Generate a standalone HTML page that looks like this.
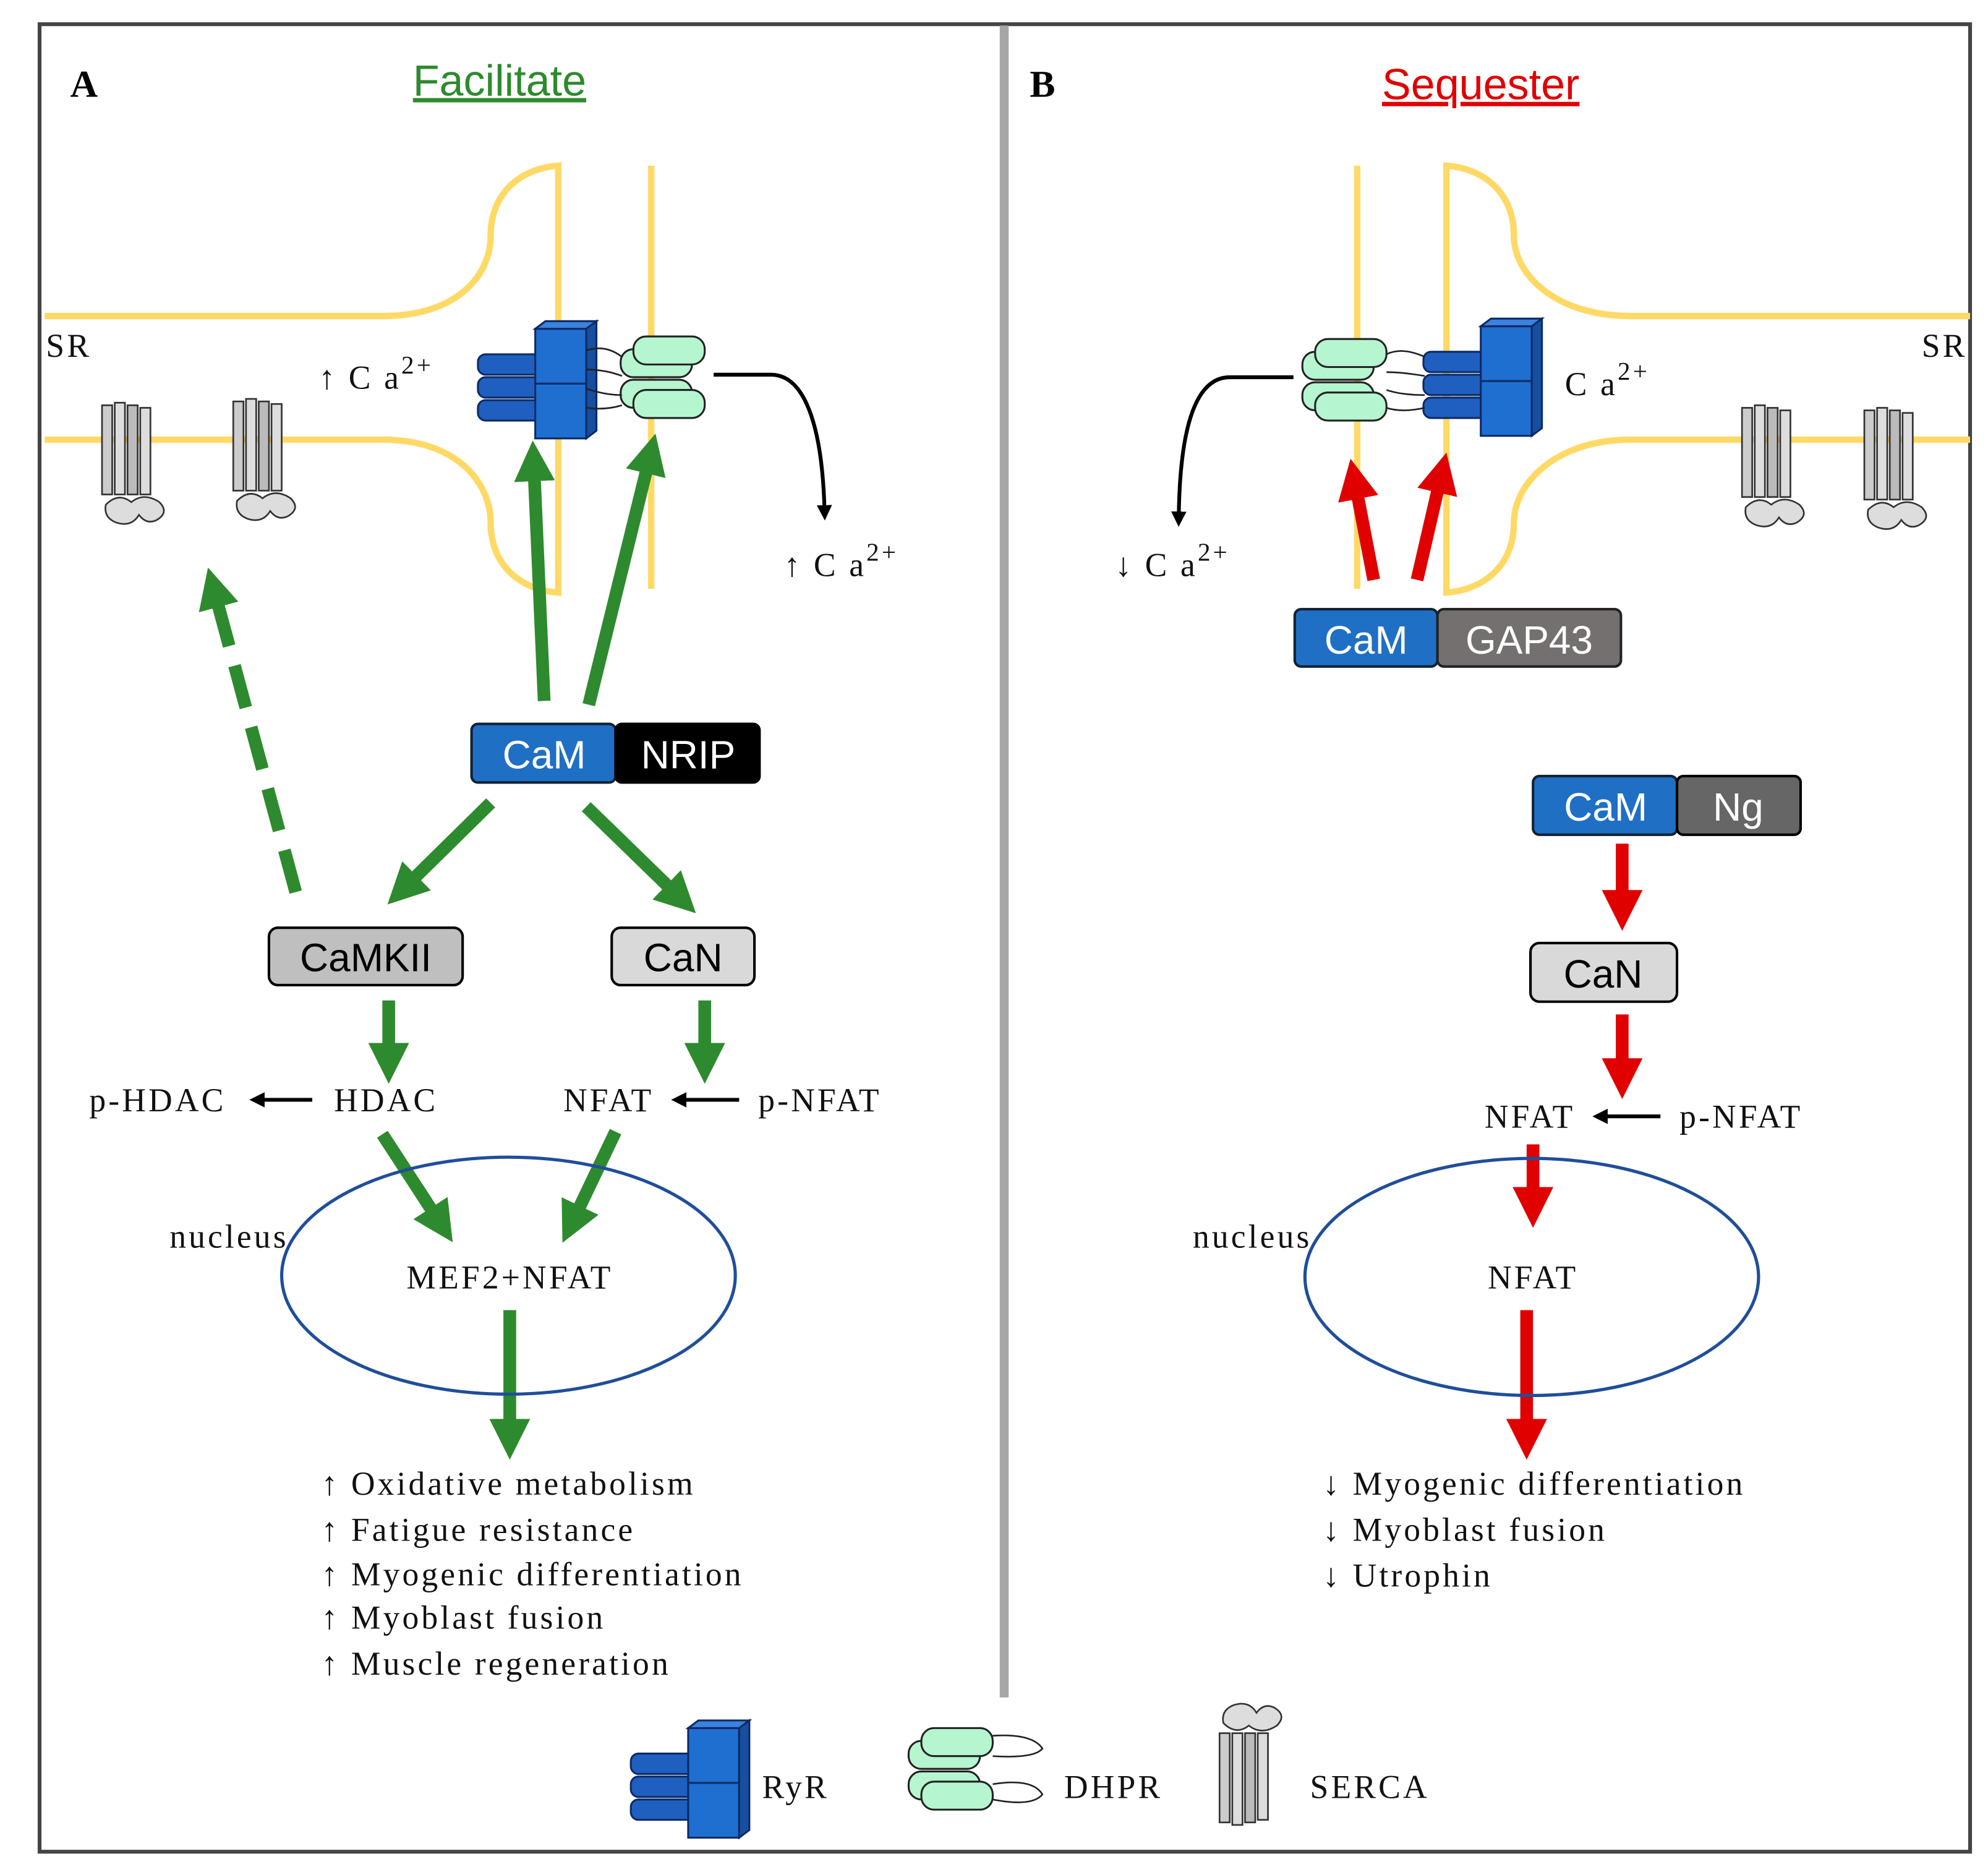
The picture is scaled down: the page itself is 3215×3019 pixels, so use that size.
<!DOCTYPE html>
<html><head><meta charset="utf-8"><style>
html,body{margin:0;padding:0;background:#fff}
svg{display:block}
.t{font-family:"Liberation Serif",serif;font-size:26px;letter-spacing:2px;fill:#111}
.b{font-family:"Liberation Sans",sans-serif;font-size:31px;text-anchor:middle}
</style></head><body>
<svg width="3215" height="3019" viewBox="0 0 1560 1465" xmlns="http://www.w3.org/2000/svg">
<defs>
<marker id="mg" viewBox="0 0 10 10" refX="3" refY="5" markerWidth="3.2" markerHeight="3.2" orient="auto"><path d="M0,0L10,5L0,10z" fill="#2e8a2e"/></marker>
<marker id="mr" viewBox="0 0 10 10" refX="3" refY="5" markerWidth="3.2" markerHeight="3.2" orient="auto"><path d="M0,0L10,5L0,10z" fill="#e00000"/></marker>
<marker id="mk" viewBox="0 0 10 10" refX="3" refY="5" markerWidth="4" markerHeight="4" orient="auto"><path d="M0,0L10,5L0,10z" fill="#000"/></marker>
<g id="ryr" stroke="#0d2a66" stroke-width="1.5">
<rect x="0" y="20" width="58" height="16" rx="6" fill="#1f5fbf"/>
<rect x="0" y="38" width="58" height="16" rx="6" fill="#1f5fbf"/>
<rect x="0" y="56" width="58" height="16" rx="6" fill="#1f5fbf"/>
<rect x="45" y="0" width="40" height="86" fill="#1f6fd0"/>
<line x1="45" y1="43" x2="85" y2="43"/>
<path d="M45,0 l8,-6 h40 l-8,6z" fill="#3a82dd"/>
<path d="M85,0 l8,-6 v86 l-8,6z" fill="#174f9e"/>
</g>
<g id="dhpr" stroke="#222" stroke-width="1.5" fill="#b5f5cf">
<rect x="0" y="10" width="56" height="22" rx="10"/>
<rect x="0" y="34" width="56" height="22" rx="10"/>
<rect x="10" y="0" width="56" height="22" rx="10"/>
<rect x="10" y="42" width="56" height="22" rx="10"/>
</g>
<g id="serca" stroke="#333" stroke-width="1.3">
<rect x="5" y="0" width="8" height="70" fill="#ccc"/>
<rect x="15" y="-2" width="8" height="72" fill="#ddd"/>
<rect x="25" y="0" width="8" height="70" fill="#bbb"/>
<rect x="35" y="2" width="8" height="68" fill="#ddd"/>
<path d="M8,78 q10,-10 20,-2 q10,-8 22,0 q8,8 -2,14 q-8,4 -14,-4 q-6,10 -18,6 q-10,-4 -8,-14z" fill="#ddd"/>
</g>
</defs>
<rect x="31" y="19" width="1515" height="1434" fill="none" stroke="#444" stroke-width="3"/>
<line x1="788" y1="20" x2="788" y2="1332" stroke="#a6a6a6" stroke-width="7"/>

<g fill="none" stroke="#ffd966" stroke-width="5">
<path d="M35,248 H300 C360,248 385,215 385,185 C385,150 410,132 438,130 V465 C410,463 385,445 385,410 C385,380 360,345 300,345 H35"/>
<line x1="511" y1="130" x2="511" y2="462"/>
<path d="M1546,248 H1280 C1220,248 1188,215 1188,185 C1188,150 1163,132 1135,130 V465 C1163,463 1188,445 1188,410 C1188,380 1220,345 1280,345 H1546"/>
<line x1="1065" y1="130" x2="1065" y2="462"/>
</g>

<text x="55" y="76" font-family="Liberation Serif,serif" font-weight="bold" font-size="30">A</text>
<text x="808" y="76" font-family="Liberation Serif,serif" font-weight="bold" font-size="30">B</text>
<text x="392" y="75" font-family="Liberation Sans,sans-serif" font-size="34" fill="#2e8a2e" text-anchor="middle" text-decoration="underline">Facilitate</text>
<text x="1162" y="78" font-family="Liberation Sans,sans-serif" font-size="34" fill="#e00000" text-anchor="middle" text-decoration="underline">Sequester</text>
<text class="t" x="36" y="280" font-size="20">SR</text>
<text class="t" x="1508" y="280" font-size="20">SR</text>

<text class="t" x="250" y="305" font-size="30">↑ C a<tspan font-size="20" dy="-12">2+</tspan></text>
<text class="t" x="615" y="452" font-size="30">↑ C a<tspan font-size="20" dy="-12">2+</tspan></text>
<text class="t" x="1228" y="310" font-size="30">C a<tspan font-size="20" dy="-12">2+</tspan></text>
<text class="t" x="875" y="452" font-size="30">↓ C a<tspan font-size="20" dy="-12">2+</tspan></text>

<use href="#ryr" x="375" y="258"/>
<use href="#dhpr" x="487" y="264"/>
<g stroke="#222" stroke-width="1.3" fill="none"><path d="M460,275 Q475,270 488,280 M460,290 Q475,290 488,295 M460,305 Q475,310 488,310 M460,320 Q475,322 488,318"/></g>
<use href="#dhpr" x="1022" y="266"/>
<use href="#ryr" x="1117" y="256"/>
<g stroke="#222" stroke-width="1.3" fill="none"><path d="M1088,278 Q1100,272 1118,280 M1088,292 Q1100,292 1118,295 M1088,306 Q1100,310 1118,310 M1088,320 Q1100,324 1118,320"/></g>

<use href="#serca" x="75" y="318"/>
<use href="#serca" x="178" y="315"/>
<use href="#serca" x="1362" y="320"/>
<use href="#serca" x="1458" y="322"/>

<path d="M560,294 H605 C630,294 645,330 647,400" fill="none" stroke="#000" stroke-width="3" marker-end="url(#mk)"/>
<path d="M1015,296 H965 C940,296 926,330 925,405" fill="none" stroke="#000" stroke-width="3" marker-end="url(#mk)"/>

<g stroke="#2e8a2e" stroke-width="10" fill="none" marker-end="url(#mg)">
<line x1="427" y1="550" x2="419" y2="368"/>
<line x1="462" y1="553" x2="509" y2="362"/>
<line x1="232" y1="700" x2="169" y2="467" stroke-dasharray="34,16"/>
<line x1="385" y1="630" x2="320" y2="694"/>
<line x1="460" y1="633" x2="530" y2="701"/>
<line x1="305" y1="785" x2="305" y2="828"/>
<line x1="553" y1="785" x2="553" y2="828"/>
<line x1="300" y1="890" x2="343" y2="956"/>
<line x1="483" y1="888" x2="451" y2="955"/>
<line x1="400" y1="1028" x2="400" y2="1123"/>
</g>
<g stroke="#e00000" stroke-width="10" fill="none" marker-end="url(#mr)">
<line x1="1078" y1="455" x2="1064" y2="382"/>
<line x1="1112" y1="455" x2="1130" y2="377"/>
<line x1="1273" y1="662" x2="1273" y2="708"/>
<line x1="1273" y1="796" x2="1273" y2="840"/>
<line x1="1203" y1="898" x2="1203" y2="941"/>
<line x1="1198" y1="1028" x2="1198" y2="1123"/>
</g>

<rect x="370" y="568" width="113" height="46" rx="5" fill="#1f6fc5" stroke="#123" stroke-width="2"/>
<text class="b" x="427" y="603" fill="#fff">CaM</text>
<rect x="483" y="568" width="113" height="46" rx="5" fill="#000" stroke="#000" stroke-width="2"/>
<text class="b" x="540" y="603" fill="#fff">NRIP</text>
<rect x="211" y="728" width="152" height="45" rx="7" fill="#bfbfbf" stroke="#000" stroke-width="2"/>
<text class="b" x="287" y="762">CaMKII</text>
<rect x="480" y="728" width="112" height="45" rx="7" fill="#d9d9d9" stroke="#000" stroke-width="2"/>
<text class="b" x="536" y="762">CaN</text>

<text class="t" x="70" y="872">p-HDAC</text>
<line x1="245" y1="863" x2="204" y2="863" stroke="#000" stroke-width="3" marker-end="url(#mk)"/>
<text class="t" x="262" y="872">HDAC</text>
<text class="t" x="442" y="872">NFAT</text>
<line x1="580" y1="863" x2="535" y2="863" stroke="#000" stroke-width="3" marker-end="url(#mk)"/>
<text class="t" x="595" y="872">p-NFAT</text>

<ellipse cx="399" cy="1001" rx="178" ry="93" fill="none" stroke="#1f4e9a" stroke-width="2.5"/>
<text class="t" x="133" y="979" font-size="22">nucleus</text>
<text class="t" x="400" y="1011" text-anchor="middle">MEF2+NFAT</text>
<text class="t" x="252" y="1173">↑ Oxidative metabolism</text>
<text class="t" x="252" y="1209">↑ Fatigue resistance</text>
<text class="t" x="252" y="1244">↑ Myogenic differentiation</text>
<text class="t" x="252" y="1278">↑ Myoblast fusion</text>
<text class="t" x="252" y="1314">↑ Muscle regeneration</text>

<rect x="1016" y="478" width="112" height="45" rx="5" fill="#1f6fc5" stroke="#123" stroke-width="2"/>
<text class="b" x="1072" y="513" fill="#fff">CaM</text>
<rect x="1128" y="478" width="144" height="45" rx="5" fill="#757070" stroke="#222" stroke-width="2"/>
<text class="b" x="1200" y="513" fill="#fff">GAP43</text>
<rect x="1203" y="609" width="113" height="46" rx="5" fill="#1f6fc5" stroke="#123" stroke-width="2"/>
<text class="b" x="1260" y="644" fill="#fff">CaM</text>
<rect x="1316" y="609" width="97" height="46" rx="5" fill="#666" stroke="#000" stroke-width="2"/>
<text class="b" x="1364" y="644" fill="#fff">Ng</text>
<rect x="1201" y="740" width="115" height="46" rx="7" fill="#d9d9d9" stroke="#000" stroke-width="2"/>
<text class="b" x="1258" y="775">CaN</text>

<text class="t" x="1165" y="885">NFAT</text>
<line x1="1303" y1="876" x2="1258" y2="876" stroke="#000" stroke-width="3" marker-end="url(#mk)"/>
<text class="t" x="1318" y="885">p-NFAT</text>
<ellipse cx="1202" cy="1002" rx="178" ry="93" fill="none" stroke="#1f4e9a" stroke-width="2.5"/>
<text class="t" x="936" y="979" font-size="22">nucleus</text>
<text class="t" x="1203" y="1011" text-anchor="middle">NFAT</text>
<text class="t" x="1038" y="1173">↓ Myogenic differentiation</text>
<text class="t" x="1038" y="1209">↓ Myoblast fusion</text>
<text class="t" x="1038" y="1245">↓ Utrophin</text>

<use href="#ryr" x="495" y="1356"/>
<text class="t" x="598" y="1411" font-size="22">RyR</text>
<use href="#dhpr" x="713" y="1356"/>
<g stroke="#222" stroke-width="1.3" fill="none"><path d="M779,1362 Q810,1360 818,1372 Q812,1380 779,1378 M779,1400 Q810,1395 818,1408 Q810,1418 779,1412"/></g>
<text class="t" x="835" y="1411" font-size="22">DHPR</text>
<g transform="translate(952,1430) scale(1,-1)"><use href="#serca"/></g>
<text class="t" x="1028" y="1411" font-size="22">SERCA</text>
</svg>
</body></html>
